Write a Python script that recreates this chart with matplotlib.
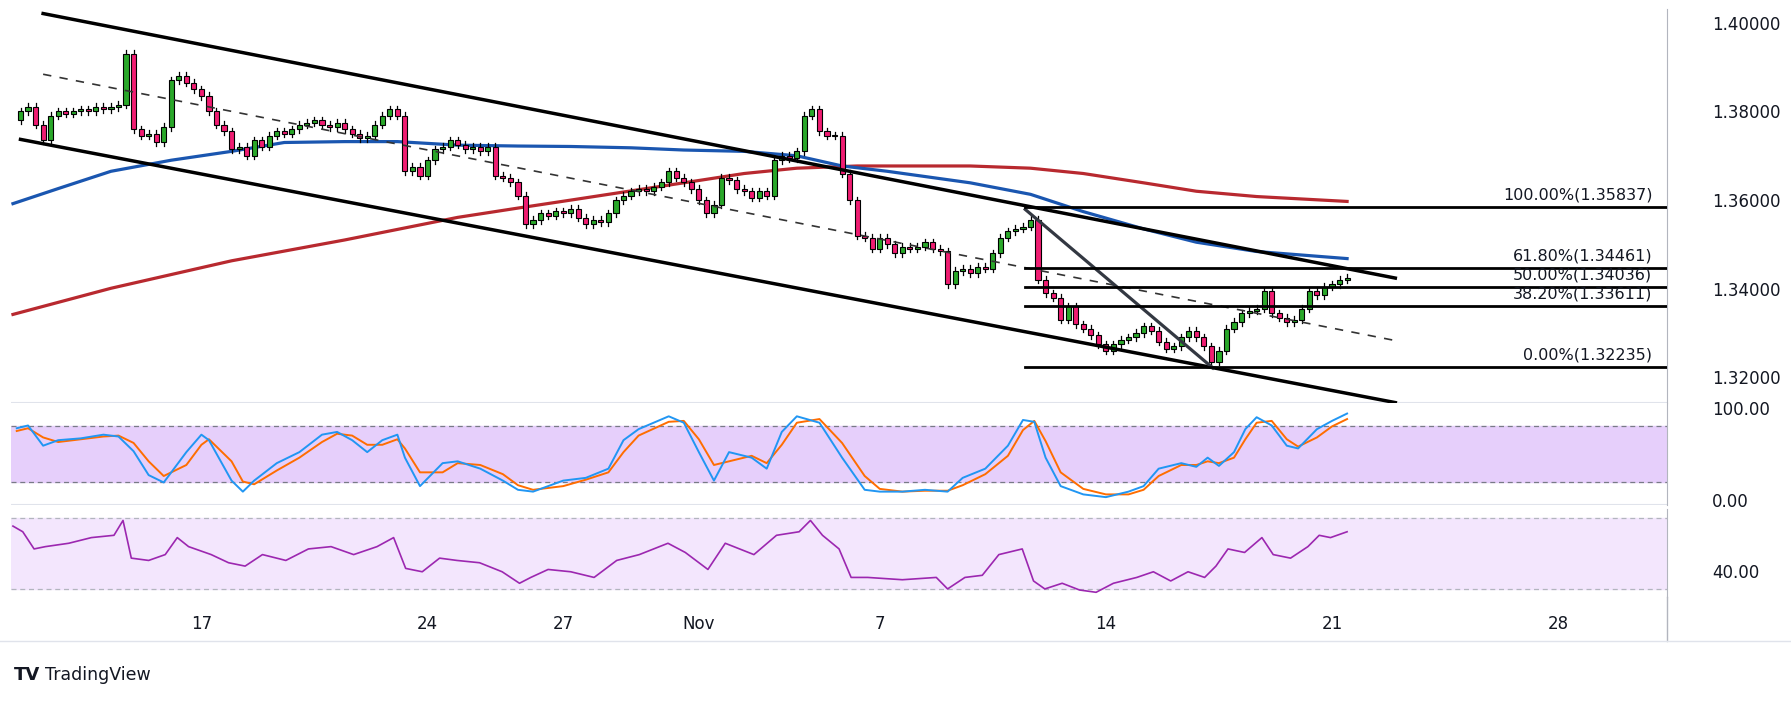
import numpy as np
import matplotlib
matplotlib.use("Agg")
import matplotlib.pyplot as plt
from matplotlib.patches import Rectangle

# ── Datos (velas 4H, índice de barra) ─────────────────────────────────────────
closes = [
    1.3800, 1.3810, 1.3770, 1.3735, 1.3790, 1.3800, 1.3795, 1.3800, 1.3805, 1.3800,
    1.3810, 1.3805, 1.3810, 1.3815, 1.3930, 1.3760, 1.3745, 1.3750, 1.3730, 1.3765,
    1.3870, 1.3880, 1.3865, 1.3850, 1.3835, 1.3800, 1.3770, 1.3755, 1.3715, 1.3720,
    1.3700, 1.3735, 1.3720, 1.3745, 1.3755, 1.3750, 1.3760, 1.3770, 1.3775, 1.3780,
    1.3770, 1.3765, 1.3775, 1.3760, 1.3750, 1.3740, 1.3745, 1.3770, 1.3790, 1.3805,
    1.3790, 1.3665, 1.3675, 1.3655, 1.3690, 1.3715, 1.3720, 1.3735, 1.3725, 1.3715,
    1.3720, 1.3710, 1.3720, 1.3655, 1.3650, 1.3640, 1.3610, 1.3545, 1.3555, 1.3570,
    1.3565, 1.3575, 1.3570, 1.3580, 1.3560, 1.3545, 1.3555, 1.3550, 1.3570, 1.3600,
    1.3610, 1.3620, 1.3625, 1.3620, 1.3630, 1.3640, 1.3665, 1.3650, 1.3640, 1.3625,
    1.3600, 1.3570, 1.3590, 1.3650, 1.3645, 1.3625, 1.3620, 1.3605, 1.3620, 1.3610,
    1.3690, 1.3700, 1.3695, 1.3710, 1.3790, 1.3805, 1.3755, 1.3745, 1.3745, 1.3660,
    1.3600, 1.3520, 1.3515, 1.3490, 1.3515, 1.3500, 1.3480, 1.3495, 1.3490, 1.3495,
    1.3505, 1.3490, 1.3485, 1.3410, 1.3440, 1.3445, 1.3435, 1.3450, 1.3445, 1.3480,
    1.3515, 1.3530, 1.3535, 1.3540, 1.3555, 1.3420, 1.3390, 1.3380, 1.3330, 1.3360,
    1.3320, 1.3310, 1.3295, 1.3275, 1.3260, 1.3275, 1.3285, 1.3290, 1.3300, 1.3315,
    1.3305, 1.3280, 1.3265, 1.3270, 1.3290, 1.3305, 1.3290, 1.3270, 1.3235, 1.3260,
    1.3310, 1.3325, 1.3345, 1.3350, 1.3355, 1.3395, 1.3345, 1.3335, 1.3325, 1.3330,
    1.3355, 1.3395, 1.3385, 1.3405, 1.3410, 1.3420, 1.3425,
]
first_open = 1.3780

# medias móviles (índice de barra, precio)
ma50_x = [-1, 5, 12, 20, 28, 35, 43, 50, 58, 66, 73, 81, 88, 96, 103, 109, 115, 126, 134, 141, 149, 156, 164, 176]
ma50_y = [1.3592, 1.3626, 1.3665, 1.3690, 1.3710, 1.3730, 1.3732, 1.3732, 1.3724, 1.3722, 1.3721, 1.3718,
          1.3713, 1.3710, 1.3700, 1.3677, 1.3665, 1.3639, 1.3613, 1.3574, 1.3535, 1.3505, 1.3484, 1.3468]
ma200_x = [-1, 12, 28, 43, 58, 66, 73, 88, 96, 103, 111, 118, 126, 134, 141, 149, 156, 164, 176]
ma200_y = [1.3342, 1.3401, 1.3463, 1.3510, 1.3561, 1.3582, 1.3600, 1.3639, 1.3660, 1.3672, 1.3677,
           1.3677, 1.3677, 1.3672, 1.3660, 1.3639, 1.3620, 1.3608, 1.3597]

# estocástico (índice de barra, %K, %D)
stk_x = [-0.5, 1, 3, 5, 8, 11, 13, 15, 17, 19, 22, 24, 25, 28, 29.5, 31, 34, 37, 40, 42, 44, 46, 48, 50,
         51, 53, 56, 58, 61, 64, 66, 68, 72, 75, 78, 80, 82, 86, 88, 90, 92, 94, 97, 99, 101, 103, 106, 109,
         112, 114, 117, 120, 123, 125, 128, 131, 133, 134.5, 136, 138, 141, 144, 147, 149, 151, 154, 156, 157.5,
         159, 161, 162.5, 164, 166, 168, 169.5, 172, 174, 176]
stk_k = [78, 81, 59, 65, 67, 71, 69, 53, 27, 19, 52, 71, 65, 21, 9, 21, 40, 52, 71, 74, 65, 52, 65, 71,
         46, 15, 40, 42, 34, 21, 11, 9, 21, 24, 34, 65, 77, 91, 84, 52, 21, 52, 46, 34, 74, 91, 84, 46,
         11, 9, 9, 11, 9, 24, 34, 59, 87, 85, 46, 15, 6, 3, 9, 15, 34, 40, 36, 46,
         37, 52, 77, 90, 81, 59, 56, 77, 86, 94]
stk_d = [75, 78, 68, 63, 66, 69, 70, 62, 42, 26, 38, 60, 66, 42, 20, 17, 32, 46, 63, 72, 70, 60, 60, 66,
         56, 30, 30, 40, 38, 28, 16, 11, 15, 22, 30, 52, 70, 85, 86, 66, 38, 42, 48, 40, 60, 84, 88, 62,
         26, 12, 9, 10, 10, 16, 28, 48, 76, 86, 64, 30, 12, 6, 6, 11, 26, 38, 38, 42,
         40, 46, 66, 84, 86, 66, 58, 68, 80, 88]

# RSI (índice de barra, valor)
rsi_x = [-1, 0.3, 1.8, 3.3, 6.4, 9.4, 12.4, 13.6, 14.7, 17, 19.2, 20.8, 22.3, 25.3, 27.6, 29.8, 32.1, 35.2,
         38.2, 41.2, 44.2, 47.3, 49.5, 51.1, 53.3, 55.6, 57.9, 60.9, 63.9, 66.2, 67.7, 70, 73, 76.1, 79.1,
         82.1, 85.9, 88.2, 91.2, 93.5, 97.3, 100.3, 103.3, 104.8, 106.4, 108.6, 110.2, 112.4, 117, 121.5,
         123, 125.3, 127.6, 129.8, 132.9, 134.4, 135.9, 138.2, 140.5, 142.7, 145, 148.1, 150.3, 152.6, 154.9,
         157.1, 158.6, 160.2, 162.4, 164.7, 166.2, 168.5, 170.8, 172.3, 173.8, 176]
rsi_v = [65.5, 62.3, 52.6, 53.9, 55.8, 59, 60.3, 68.7, 47.4, 46.1, 49.4, 59, 53.9, 49.4, 44.8, 42.9, 49.4,
         46.1, 52.6, 53.9, 49.4, 53.9, 59, 41.6, 39.7, 47.4, 46.1, 44.8, 39.7, 33.2, 36.5, 41, 39.7, 36.5,
         46.1, 49.4, 55.8, 50.6, 41, 55.8, 49.4, 60.3, 62.3, 68.7, 60.3, 52.6, 36.5, 36.5, 35.2, 36.5,
         30, 36.5, 37.7, 49.4, 52.6, 34.5, 30, 33.2, 29.4, 28.1, 33.2, 36.5, 39.7, 34.5, 39.7, 36.5,
         42.9, 52.6, 50.6, 59, 49.4, 47.4, 53.9, 60.3, 59, 62.3]

# Retrocesos de Fibonacci
fib_pct = ["100.00%", "61.80%", "50.00%", "38.20%", "0.00%"]
fib_lvl = [1.35837, 1.34461, 1.34036, 1.33611, 1.32235]

# Líneas de tendencia ((x0, y0), (x1, y1))
canal_sup = ((3.0, 1.4021), (182.4, 1.3424))
canal_inf = ((0.0, 1.3737), (182.4, 1.3143))
canal_med = ((3.0, 1.3884), (182.4, 1.3283))
diagonal = ((133.3, 1.3579), (158.2, 1.3221))

# Etiquetas de fecha (índice de barra, texto)
fecha_x = [24, 54, 72, 90, 114, 144, 174, 204]
fecha_txt = ["17", "24", "27", "Nov", "7", "14", "21", "28"]

GREEN = "#2aa82a"
PINK = "#f01d72"
BLUE = "#1a56b0"
RED = "#b8292f"
XMIN, XMAX = -1.2, 218.5

fig = plt.figure(figsize=(17.91, 7.01), dpi=100)
L, R = 0.0064, 0.931
ax_p = fig.add_axes([L, 0.4258, R - L, 0.987 - 0.4258])
ax_s = fig.add_axes([L, 0.279, R - L, 0.4258 - 0.279])
ax_r = fig.add_axes([L, 0.1485, R - L, 0.274 - 0.1485])

for ax in (ax_p, ax_s, ax_r):
    ax.set_xlim(XMIN, XMAX)
    ax.yaxis.tick_right()
    ax.tick_params(axis="y", length=0, pad=32, labelsize=12, colors="#131722")
    ax.tick_params(axis="x", length=0, labelbottom=False)
    for s in ("left", "top", "bottom"):
        ax.spines[s].set_visible(False)
    ax.spines["right"].set_color("#b2b5be")

# ── Precio ────────────────────────────────────────────────────────────────────
ax_p.set_ylim(1.31432, 1.4031)
ax_p.set_yticks([1.32, 1.34, 1.36, 1.38, 1.40])
ax_p.set_yticklabels([f"{v:.5f}" for v in [1.32, 1.34, 1.36, 1.38, 1.40]], ha="left")
ax_p.axhline(1.31432, color="#e0e3eb", lw=1.5)

ax_p.plot(ma200_x, ma200_y, color=RED, lw=2.3, zorder=2)
ax_p.plot(ma50_x, ma50_y, color=BLUE, lw=2.3, zorder=2)

opens = [first_open] + closes[:-1]
wick = 0.0008
for i, (o, c) in enumerate(zip(opens, closes)):
    hi, lo = max(o, c) + wick, min(o, c) - wick
    ax_p.plot([i, i], [lo, hi], color="black", lw=0.9, zorder=3)
    col = GREEN if c >= o else PINK
    h = max(abs(c - o), 0.00012)
    ax_p.add_patch(Rectangle((i - 0.34, min(o, c)), 0.68, h, facecolor=col,
                             edgecolor="black", lw=0.8, zorder=4))

for (x0, y0), (x1, y1) in (canal_sup, canal_inf):
    ax_p.plot([x0, x1], [y0, y1], color="black", lw=2.5, zorder=5)
(x0, y0), (x1, y1) = canal_med
ax_p.plot([x0, x1], [y0, y1], color="#333333", lw=1.2, ls=(0, (5, 5)), zorder=5)
(x0, y0), (x1, y1) = diagonal
ax_p.plot([x0, x1], [y0, y1], color="#333842", lw=2.3, zorder=5)

for pct, lvl in zip(fib_pct, fib_lvl):
    ax_p.plot([133.3, XMAX], [lvl, lvl], color="black", lw=2.0, zorder=5)
    ax_p.text(XMAX - 2, lvl + 0.0011, f"{pct}({lvl:.5f})", ha="right", va="bottom",
              fontsize=11.5, color="#131722", zorder=6)

# ── Estocástico ───────────────────────────────────────────────────────────────
ax_s.set_ylim(-6, 106)
ax_s.set_yticks([0, 100])
ax_s.set_yticklabels(["0.00", "100.00"], ha="left")
ax_s.axhspan(20, 80, color="#e6cffb", zorder=0)
ax_s.axhline(80, color="#787b86", lw=0.9, ls=(0, (4, 3)))
ax_s.axhline(20, color="#787b86", lw=0.9, ls=(0, (4, 3)))
ax_s.axhline(-6, color="#e0e3eb", lw=1.5)
ax_s.plot(stk_x, stk_d, color="#ff6d00", lw=1.4, zorder=3)
ax_s.plot(stk_x, stk_k, color="#2196f3", lw=1.4, zorder=4)

# ── RSI ───────────────────────────────────────────────────────────────────────
ax_r.set_ylim(25.5, 75.2)
ax_r.set_yticks([40])
ax_r.set_yticklabels(["40.00"], ha="left")
ax_r.axhspan(30, 70, color="#f3e6fd", zorder=0)
ax_r.axhline(70, color="#b2b5be", lw=0.9, ls=(0, (4, 3)))
ax_r.axhline(30, color="#b2b5be", lw=0.9, ls=(0, (4, 3)))
ax_r.plot(rsi_x, rsi_v, color="#9c27b0", lw=1.2, zorder=3)

# eje de fechas
for fx, ft in zip(fecha_x, fecha_txt):
    fig.text(L + (fx - XMIN) / (XMAX - XMIN) * (R - L), 0.11, ft, ha="center", va="center",
             fontsize=12, color="#131722")
fig.add_artist(plt.Line2D([R, R], [0.086, 0.1485], color="#b2b5be", lw=1))
fig.add_artist(plt.Line2D([0, 1], [0.086, 0.086], color="#e0e3eb", lw=1))

fig.text(0.008, 0.037, "TV", fontsize=13, fontweight="bold", color="#131722", va="center")
fig.text(0.025, 0.037, "TradingView", fontsize=12.5, color="#131722", va="center")

fig.savefig("out.png", dpi=100)
